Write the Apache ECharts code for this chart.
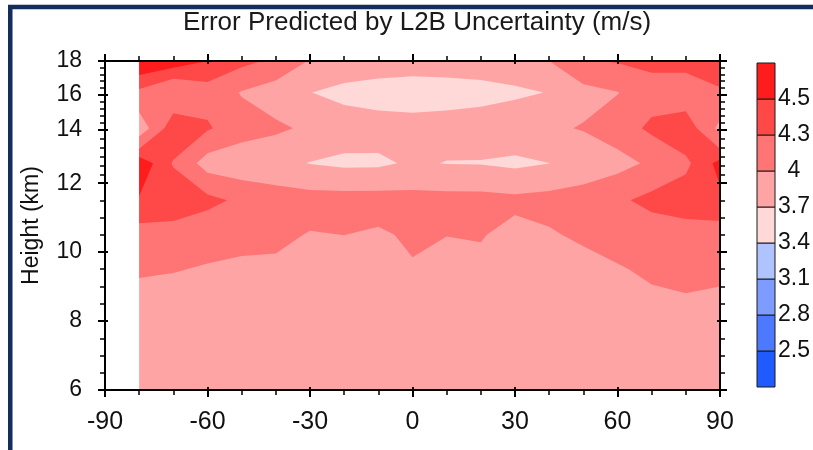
<!DOCTYPE html>
<html>
<head>
<meta charset="utf-8">
<script src="https://cdn.jsdelivr.net/npm/echarts@6/dist/echarts.min.js"></script>
<style>
  html, body { margin: 0; padding: 0; background: #ffffff; }
  #chart { width: 813px; height: 450px; }
</style>
</head>
<body>
<div id="chart"></div>
<script>
// Latitude columns (deg) and height rows (km) of the error field
const lats = [-80, -70, -60, -50, -40, -30, -20, -10, 0, 10, 20, 30, 40, 50, 60, 70, 80, 90];
const heights = [6, 6.5, 7.5, 8.5, 9.5, 10.5, 11.5, 12.75, 14.1, 16.1, 18];

// Error predicted by L2B uncertainty (m/s), one array per height row
const err6_0   = [3.85, 3.85, 3.85, 3.85, 3.85, 3.85, 3.85, 3.85, 3.85, 3.85, 3.85, 3.85, 3.85, 3.85, 3.85, 3.85, 3.85, 3.85];
const err6_5   = [3.85, 3.85, 3.85, 3.85, 3.85, 3.85, 3.85, 3.85, 3.85, 3.85, 3.85, 3.85, 3.85, 3.85, 3.85, 3.85, 3.85, 3.85];
const err7_5   = [3.86, 3.86, 3.86, 3.86, 3.86, 3.86, 3.86, 3.86, 3.86, 3.86, 3.86, 3.86, 3.86, 3.86, 3.86, 3.87, 3.88, 3.88];
const err8_5   = [3.90, 3.90, 3.88, 3.87, 3.86, 3.86, 3.86, 3.86, 3.87, 3.87, 3.87, 3.86, 3.86, 3.86, 3.88, 3.95, 3.97, 3.95];
const err9_5   = [4.035, 4.013, 3.98, 3.95, 3.95, 3.90, 3.90, 3.90, 3.979, 3.90, 3.93, 3.87, 3.88, 3.90, 3.98, 4.04, 4.07, 4.05];
const err10_5  = [4.21, 4.20, 4.10, 4.08, 4.06, 3.985, 4.002, 3.964, 4.04, 4.006, 4.02, 3.907, 3.97, 4.05, 4.10, 4.15, 4.20, 4.20];
const err11_5  = [4.48, 4.45, 4.38, 4.24, 4.15, 4.12, 4.12, 4.12, 4.10, 4.10, 4.10, 4.07, 4.10, 4.15, 4.25, 4.38, 4.42, 4.45];
const err12_75 = [4.65, 4.28, 3.87, 3.80, 3.78, 3.69, 3.64, 3.65, 3.74, 3.69, 3.685, 3.64, 3.698, 3.80, 3.90, 4.05, 4.25, 4.57];
const err14_1  = [3.80, 4.48, 4.33, 4.14, 4.05, 3.95, 3.85, 3.82, 3.80, 3.82, 3.85, 3.90, 3.95, 4.02, 4.15, 4.36, 4.48, 3.92];
const err16_1  = [4.25, 4.05, 4.20, 3.98, 3.85, 3.705, 3.62, 3.58, 3.57, 3.58, 3.60, 3.65, 3.71, 3.90, 3.99, 4.167, 4.10, 4.27];
const err18_0  = [4.70, 4.62, 4.50, 4.38, 4.24, 3.98, 3.88, 3.85, 3.82, 3.83, 3.85, 3.88, 4.00, 4.28, 4.32, 4.38, 4.42, 4.45];
const errRows = [err6_0, err6_5, err7_5, err8_5, err9_5, err10_5, err11_5, err12_75, err14_1, err16_1, err18_0];

// Contour levels and colour-bar labels
const levels = [2.5, 2.8, 3.1, 3.4, 3.7, 4.0, 4.3, 4.5];
const levelLabels = ['2.5', '2.8', '3.1', '3.4', '3.7', '4', '4.3', '4.5'];

// Height tick labels (km) and minor tick heights
const heightTicks = [6, 8, 10, 12, 14, 16, 18];
const heightMinor = [6.5, 7, 7.5, 8.5, 9, 9.5, 10.5, 11, 11.5,
                     12.33, 12.67, 13, 13.33, 13.67, 14.4, 14.8, 15.2, 15.6, 16.4, 16.8, 17.2, 17.6];

// ---- styling ----
const bandColors = ['#1f5bff', '#4d79ff', '#7e9cff', '#afc3ff', '#ffd8d8', '#ffa4a4', '#ff7575', '#ff4848', '#ff1c1c'];
// vertical stretch of the height axis: axis position of each height tick
const heightAxisPos = [0, 69, 138.3, 207, 260.3, 296, 329.3];
const FONT = 'Liberation Sans, Arial, Helvetica, sans-serif';

function heightToAxis(h) {
  for (let i = 0; i < heightTicks.length - 1; i++) {
    const h0 = heightTicks[i], h1 = heightTicks[i + 1];
    if (h <= h1 || i === heightTicks.length - 2) {
      const t = (h - h0) / (h1 - h0);
      return heightAxisPos[i] + t * (heightAxisPos[i + 1] - heightAxisPos[i]);
    }
  }
  return heightAxisPos[heightAxisPos.length - 1];
}

const rowPos = heights.map(heightToAxis);
const axisTop = heightAxisPos[heightAxisPos.length - 1];

function crossAt(a, b, lvl) {
  const t = (lvl - a[2]) / (b[2] - a[2]);
  return [a[0] + t * (b[0] - a[0]), a[1] + t * (b[1] - a[1]), lvl];
}

// Keep the part of a polygon where the value is >= lvl
function clipAbove(poly, lvl) {
  const out = [];
  for (let i = 0; i < poly.length; i++) {
    const a = poly[i], b = poly[(i + 1) % poly.length];
    const ain = a[2] >= lvl, bin = b[2] >= lvl;
    if (ain) out.push(a);
    if (ain !== bin) out.push(crossAt(a, b, lvl));
  }
  return out;
}

// Marching squares: region of one grid cell with value >= lvl
function cellRegion(q, lvl) {
  const above = q.map(p => p[2] >= lvl);
  const n = above.filter(Boolean).length;
  if (n === 0) return [];
  if (n === 4) return [q];
  if (n === 2 && above[0] === above[2]) {
    const centre = (q[0][2] + q[1][2] + q[2][2] + q[3][2]) / 4;
    if (centre < lvl) {
      const parts = [];
      for (let i = 0; i < 4; i++) {
        if (!above[i]) continue;
        const prev = q[(i + 3) % 4], cur = q[i], next = q[(i + 1) % 4];
        parts.push([crossAt(prev, cur, lvl), cur, crossAt(cur, next, lvl)]);
      }
      return parts;
    }
  }
  return [clipAbove(q, lvl)];
}

const cells = [];
for (let j = 0; j < heights.length - 1; j++) {
  for (let i = 0; i < lats.length - 1; i++) {
    cells.push([
      [lats[i], rowPos[j], errRows[j][i]],
      [lats[i + 1], rowPos[j], errRows[j][i + 1]],
      [lats[i + 1], rowPos[j + 1], errRows[j + 1][i + 1]],
      [lats[i], rowPos[j + 1], errRows[j + 1][i]]
    ]);
  }
}

// Stacked layers: layer k fills the region above levels[k-1]
let minVal = Infinity;
errRows.forEach(r => r.forEach(v => { minVal = Math.min(minVal, v); }));
let firstBand = 0;
while (firstBand < levels.length && minVal >= levels[firstBand]) firstBand++;
const layers = [];
for (let k = firstBand; k < bandColors.length; k++) layers.push([lats[0], 0, k]);

function renderContour(params, api) {
  const k = api.value(2);
  const lvl = k === firstBand ? -Infinity : levels[k - 1];
  let d = '';
  for (const q of cells) {
    for (const poly of cellRegion(q, lvl)) {
      if (poly.length < 3) continue;
      poly.forEach((p, idx) => {
        const pt = api.coord([p[0], p[1]]);
        d += (idx === 0 ? 'M' : 'L') + pt[0].toFixed(2) + ' ' + pt[1].toFixed(2);
      });
      d += 'Z';
    }
  }
  if (!d) return null;
  return { type: 'path', shape: { pathData: d }, style: { fill: bandColors[k] } };
}

// Colour bar boxes
const barBoxes = bandColors.map((c, k) => [0, k]);
function renderBar(params, api) {
  const k = api.value(1);
  const p0 = api.coord([0, k]);
  const p1 = api.coord([1, k + 1]);
  return {
    type: 'rect',
    shape: { x: p0[0], y: p1[1], width: p1[0] - p0[0], height: p0[1] - p1[1] },
    style: { fill: bandColors[k], stroke: '#1a1a1a', lineWidth: 1 }
  };
}

const majorPos = heightTicks.map(heightToAxis);
const minorPos = heightMinor.map(heightToAxis);
const axisLineStyle = { color: '#000', width: 2 };
const tickStyle = { color: '#000', width: 2 };

function heightLabel(v) {
  let best = 0;
  majorPos.forEach((p, i) => { if (Math.abs(p - v) < Math.abs(majorPos[best] - v)) best = i; });
  return String(heightTicks[best]);
}

// Height axes: outer major ticks with labels, outer minor ticks, short inner major ticks
function yAxisSet(position, withLabels) {
  const base = { type: 'value', gridIndex: 0, position: position, min: 0, max: axisTop, z: 10, splitLine: { show: false } };
  return [
    Object.assign({}, base, {
      axisLine: { show: true, onZero: false, lineStyle: axisLineStyle },
      axisTick: { show: true, customValues: majorPos, length: 7, lineStyle: tickStyle },
      axisLabel: {
        show: withLabels, customValues: majorPos, fontSize: 23, fontFamily: FONT, color: '#111', margin: 23,
        formatter: heightLabel
      },
      name: withLabels ? 'Height (km)' : '',
      nameLocation: 'middle', nameRotate: 90, nameGap: 62,
      nameTextStyle: { fontSize: 23, fontFamily: FONT, color: '#111' }
    }),
    Object.assign({}, base, {
      axisLine: { show: false, onZero: false },
      axisTick: { show: true, customValues: minorPos, length: 5, lineStyle: { color: '#000', width: 1.5 } },
      axisLabel: { show: false }
    }),
    Object.assign({}, base, {
      axisLine: { show: false, onZero: false },
      axisTick: { show: true, inside: true, customValues: majorPos, length: 3, lineStyle: tickStyle },
      axisLabel: { show: false }
    })
  ];
}

function xAxisSet(position, withLabels) {
  const base = { type: 'value', gridIndex: 0, position: position, min: -90, max: 90, interval: 30, z: 10, splitLine: { show: false } };
  return [
    Object.assign({}, base, {
      axisLine: { show: true, onZero: false, lineStyle: axisLineStyle },
      axisTick: { show: true, length: 7, lineStyle: tickStyle },
      minorTick: { show: true, splitNumber: 3, length: 5, lineStyle: { color: '#000', width: 1.5 } },
      axisLabel: { show: withLabels, fontSize: 25, fontFamily: FONT, color: '#111', margin: 20 }
    }),
    Object.assign({}, base, {
      axisLine: { show: false, onZero: false },
      axisTick: { show: true, inside: true, length: 3, lineStyle: tickStyle },
      axisLabel: { show: false }
    })
  ];
}

const yAxes = [...yAxisSet('left', true), ...yAxisSet('right', false)];
const chart = echarts.init(document.getElementById('chart'), null, { renderer: 'canvas' });
chart.setOption({
  animation: false,
  backgroundColor: '#ffffff',
  title: {
    text: 'Error Predicted by L2B Uncertainty (m/s)',
    left: 412, top: 5, textAlign: 'center',
    textStyle: { fontSize: 26, fontWeight: 'normal', fontFamily: FONT, color: '#1a1a1a' }
  },
  graphic: [{
    type: 'rect', z: 100, silent: true,
    shape: { x: 10.25, y: 7, width: 900, height: 600 },
    style: { fill: 'none', stroke: '#132d5c', lineWidth: 4.5 }
  }],
  grid: [
    { left: 105, right: 93, top: 61, bottom: 60 },
    { left: 757, width: 20, top: 63, height: 324 }
  ],
  xAxis: [
    ...xAxisSet('bottom', true),
    ...xAxisSet('top', false),
    { type: 'value', gridIndex: 1, min: 0, max: 1, show: false }
  ],
  yAxis: [
    ...yAxes,
    {
      type: 'value', gridIndex: 1, position: 'right', min: 0, max: bandColors.length,
      axisLine: { show: false }, axisTick: { show: false }, splitLine: { show: false },
      axisLabel: {
        customValues: levels.map((_, i) => i + 1), fontSize: 23, fontFamily: FONT, color: '#111',
        margin: 19, align: 'center', padding: [4, 0, 0, 0],
        formatter: v => levelLabels[Math.round(v) - 1]
      }
    }
  ],
  series: [
    {
      type: 'custom', xAxisIndex: 0, yAxisIndex: 0, data: layers, z: 1,
      renderItem: renderContour, clip: true, silent: true
    },
    {
      type: 'custom', xAxisIndex: 4, yAxisIndex: yAxes.length, data: barBoxes,
      renderItem: renderBar, silent: true
    }
  ]
});
</script>
</body>
</html>
